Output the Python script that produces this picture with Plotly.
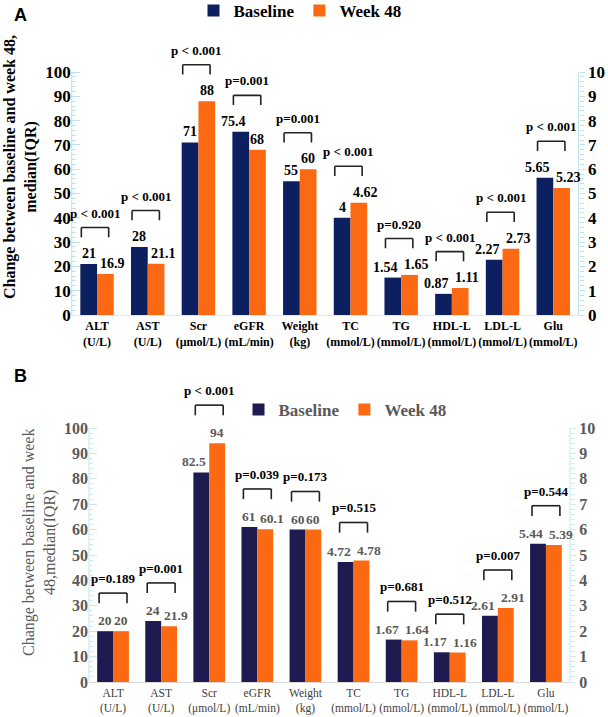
import plotly.graph_objects as go

# ---------------- data ----------------
categories = ["ALT<br>(U/L)", "AST<br>(U/L)", "Scr<br>(μmol/L)", "eGFR<br>(mL/min)", "Weight<br>(kg)",
              "TC<br>(mmol/L)", "TG<br>(mmol/L)", "HDL-L<br>(mmol/L)", "LDL-L<br>(mmol/L)", "Glu<br>(mmol/L)"]
series_names = ["Baseline", "Week 48"]

a_baseline = [21, 28, 71, 75.4, 55, 4, 1.54, 0.87, 2.27, 5.65]
a_week48 = [16.9, 21.1, 88, 68, 60, 4.62, 1.65, 1.11, 2.73, 5.23]
a_pvalues = ["p < 0.001", "p < 0.001", "p < 0.001", "p=0.001", "p=0.001",
             "p < 0.001", "p=0.920", "p < 0.001", "p < 0.001", "p < 0.001"]

b_baseline = [20, 24, 82.5, 61, 60, 4.72, 1.67, 1.17, 2.61, 5.44]
b_week48 = [20, 21.9, 94, 60.1, 60, 4.78, 1.64, 1.16, 2.91, 5.39]
b_pvalues = ["p=0.189", "p=0.001", "p < 0.001", "p=0.039", "p=0.173",
             "p=0.515", "p=0.681", "p=0.512", "p=0.007", "p=0.544"]

left_ticks = list(range(0, 101, 10))
right_ticks = list(range(0, 11, 1))

# ---------------- styles ----------------
SERIF = "Liberation Serif"
W, H = 608, 717
N_LEFT = 5  # first five categories use the left axis, rest the right axis

panels = [
    dict(base=a_baseline, wk=a_week48, p=a_pvalues, xa="x", ya="y", ya2="y2",
         colors=["#0c1f5e", "#fb6a12"], xdom=[71.7 / W, 578.6 / W], px0=315, px100=72,
         tickcolor="#000000", tickfont=17, rtickfont=17, valcolor="#000000", valsize=14,
         xlabcolor="#000000", xlabweight="bold", xlabsize=12, axcol="#bfe5ea", basecol="#d6eef2",
         legend="legend", bshift=-0.04, bwidth=0.54),
    dict(base=b_baseline, wk=b_week48, p=b_pvalues, xa="x2", ya="y3", ya2="y4",
         colors=["#1d1b4f", "#fb6a12"], xdom=[89 / W, 570 / W], px0=682, px100=428,
         tickcolor="#595959", tickfont=16, rtickfont=16, valcolor="#595959", valsize=13.5,
         xlabcolor="#404040", xlabweight="normal", xlabsize=11.5, axcol="#cdeaf0", basecol="#d9d9d9",
         legend="legend2", bshift=0.0, bwidth=0.58),
]

YMAX = 115.0
fig = go.Figure()
shapes = []
annotations = []
xpos = list(range(len(categories)))

for k, pn in enumerate(panels):
    for s, (name, vals) in enumerate(zip(series_names, [pn["base"], pn["wk"]])):
        for side in (0, 1):
            idx = list(range(0, N_LEFT)) if side == 0 else list(range(N_LEFT, len(categories)))
            fig.add_trace(go.Bar(
                x=[xpos[i] for i in idx], y=[vals[i] for i in idx],
                name=name, legendgroup=f"{k}{name}", showlegend=(side == 0),
                legend=pn["legend"],
                xaxis=pn["xa"], yaxis=(pn["ya"] if side == 0 else pn["ya2"]),
                marker=dict(color=pn["colors"][s], line=dict(width=0)),
                offsetgroup=str(s),
            ))
    # value labels: short ones centred on their bar, longer ones pushed outward from the pair centre
    bar_half = (1 - 0.34) / 4  # half of one bar's width in category units
    for i in xpos:
        yref = pn["ya"] if i < N_LEFT else pn["ya2"]
        for s, vals in enumerate([pn["base"], pn["wk"]]):
            txt = f"{vals[i]:g}"
            sign = -1 if s == 0 else 1
            if len(txt) <= 2:
                ann = dict(x=i + sign * bar_half, xanchor="center", xshift=0)
            else:
                ann = dict(x=i, xanchor="right" if s == 0 else "left", xshift=sign * 1)
            ann.update(xref=pn["xa"], yref=yref, y=vals[i], yanchor="bottom", yshift=1,
                       text=txt, showarrow=False,
                       font=dict(family=SERIF, size=pn["valsize"], color=pn["valcolor"], weight="bold"))
            annotations.append(ann)
    # brackets + p-values
    for i, ptxt in enumerate(pn["p"]):
        on_left = i < N_LEFT
        unit = 1.0 if on_left else 0.1
        yref = pn["ya"] if on_left else pn["ya2"]
        top = max(pn["base"][i], pn["wk"][i]) + 15 * unit
        x0 = i + pn["bshift"] - pn["bwidth"] / 2
        x1 = i + pn["bshift"] + pn["bwidth"] / 2
        lc = dict(color="#222222", width=1.6)
        shapes.append(dict(type="line", xref=pn["xa"], yref=yref, x0=x0, x1=x1, y0=top, y1=top, line=lc))
        shapes.append(dict(type="line", xref=pn["xa"], yref=yref, x0=x0, x1=x0, y0=top, y1=top - 4 * unit, line=lc))
        shapes.append(dict(type="line", xref=pn["xa"], yref=yref, x0=x1, x1=x1, y0=top, y1=top - 4 * unit, line=lc))
        annotations.append(dict(xref=pn["xa"], yref=yref, x=i + pn["bshift"], y=top + 2 * unit,
                                text=ptxt, showarrow=False, yanchor="bottom", xanchor="center",
                                font=dict(family=SERIF, size=13, color="#000000", weight="bold")))
    # axis lines (only up to 100 / 10)
    xd = pn["xa"] + " domain"
    shapes.append(dict(type="line", xref=xd, yref=pn["ya"], x0=0, x1=0, y0=0, y1=100,
                       line=dict(color=pn["axcol"], width=1.2)))
    shapes.append(dict(type="line", xref=xd, yref=pn["ya2"], x0=1, x1=1, y0=0, y1=10,
                       line=dict(color=pn["axcol"], width=1.2)))

# domains (pixel-derived)
def ydom(px0, px100):
    per = (px0 - px100) / 100.0
    top_px = px0 - YMAX * per
    return [(H - px0) / H, (H - top_px) / H]

common_y = dict(showgrid=False, zeroline=False, showline=False, ticks="inside", ticklen=8, tickwidth=1.2,
                automargin=False)
for k, pn in enumerate(panels):
    dom = ydom(pn["px0"], pn["px100"])
    xname = "xaxis" if k == 0 else "xaxis2"
    yl = "yaxis" if k == 0 else "yaxis3"
    yr = "yaxis2" if k == 0 else "yaxis4"
    ya_id = pn["ya"]
    fig.layout[xname] = dict(domain=pn["xdom"], range=[-0.5, len(categories) - 0.5],
                             tickmode="array", tickvals=xpos, ticktext=categories,
                             showgrid=False, zeroline=False, showline=True, linecolor=pn["basecol"],
                             linewidth=1, ticks="", anchor=ya_id, automargin=False,
                             tickfont=dict(family=SERIF, size=pn["xlabsize"], color=pn["xlabcolor"],
                                           weight=pn["xlabweight"]))
    fig.layout[yl] = dict(domain=dom, range=[0, YMAX], tickmode="array", tickvals=left_ticks,
                          tickcolor=pn["axcol"], anchor=pn["xa"],
                          minor=dict(tickmode="array", tickvals=list(range(0, 101, 2)), ticks="inside",
                                     ticklen=4, tickcolor=pn["axcol"], tickwidth=1),
                          tickfont=dict(family=SERIF, size=pn["tickfont"], color=pn["tickcolor"], weight="bold"),
                          **common_y)
    fig.layout[yr] = dict(range=[0, YMAX / 10], tickmode="array", tickvals=right_ticks,
                          overlaying=ya_id, side="right", anchor=pn["xa"],
                          tickcolor=pn["axcol"],
                          minor=dict(tickmode="array", tickvals=[v / 5 for v in range(0, 51)], ticks="outside",
                                     ticklen=4, tickcolor=pn["axcol"], tickwidth=1),
                          tickfont=dict(family=SERIF, size=pn["rtickfont"], color=pn["tickcolor"], weight="bold"),
                          **{**common_y, "ticks": "outside", "ticklen": 5})

# titles and panel letters
annotations += [
    dict(xref="paper", yref="paper", x=12 / W, y=(H - 15) / H, text="A", showarrow=False,
         xanchor="left", yanchor="middle", font=dict(family="Liberation Sans", size=18, color="#000", weight="bold")),
    dict(xref="paper", yref="paper", x=12 / W, y=(H - 376) / H, text="B", showarrow=False,
         xanchor="left", yanchor="middle", font=dict(family="Liberation Sans", size=18, color="#000", weight="bold")),
    dict(xref="paper", yref="paper", x=20 / W, y=(H - 167) / H, textangle=-90, showarrow=False,
         xanchor="center", yanchor="middle",
         text="Change between baseline and week 48,<br>median(IQR)",
         font=dict(family=SERIF, size=16, color="#000", weight="bold")),
    dict(xref="paper", yref="paper", x=39 / W, y=(H - 543) / H, textangle=-90, showarrow=False,
         xanchor="center", yanchor="middle",
         text="Change between baseline and week<br>48,median(IQR)",
         font=dict(family=SERIF, size=16, color="#595959")),
]

fig.update_layout(
    width=W, height=H, margin=dict(l=0, r=0, t=0, b=0, autoexpand=False),
    paper_bgcolor="white", plot_bgcolor="white",
    barmode="group", bargap=0.34, bargroupgap=0,
    shapes=shapes, annotations=annotations,
    legend=dict(orientation="h", x=300 / W, xanchor="center", y=(H - 11) / H, yanchor="middle",
                font=dict(family=SERIF, size=17, color="#000", weight="bold"),
                itemwidth=30, tracegroupgap=0, bgcolor="rgba(0,0,0,0)"),
    legend2=dict(orientation="h", x=345 / W, xanchor="center", y=(H - 410) / H, yanchor="middle",
                 font=dict(family=SERIF, size=17, color="#595959", weight="bold"),
                 itemwidth=30, tracegroupgap=0, bgcolor="rgba(0,0,0,0)"),
)

fig.write_html("out.html")
